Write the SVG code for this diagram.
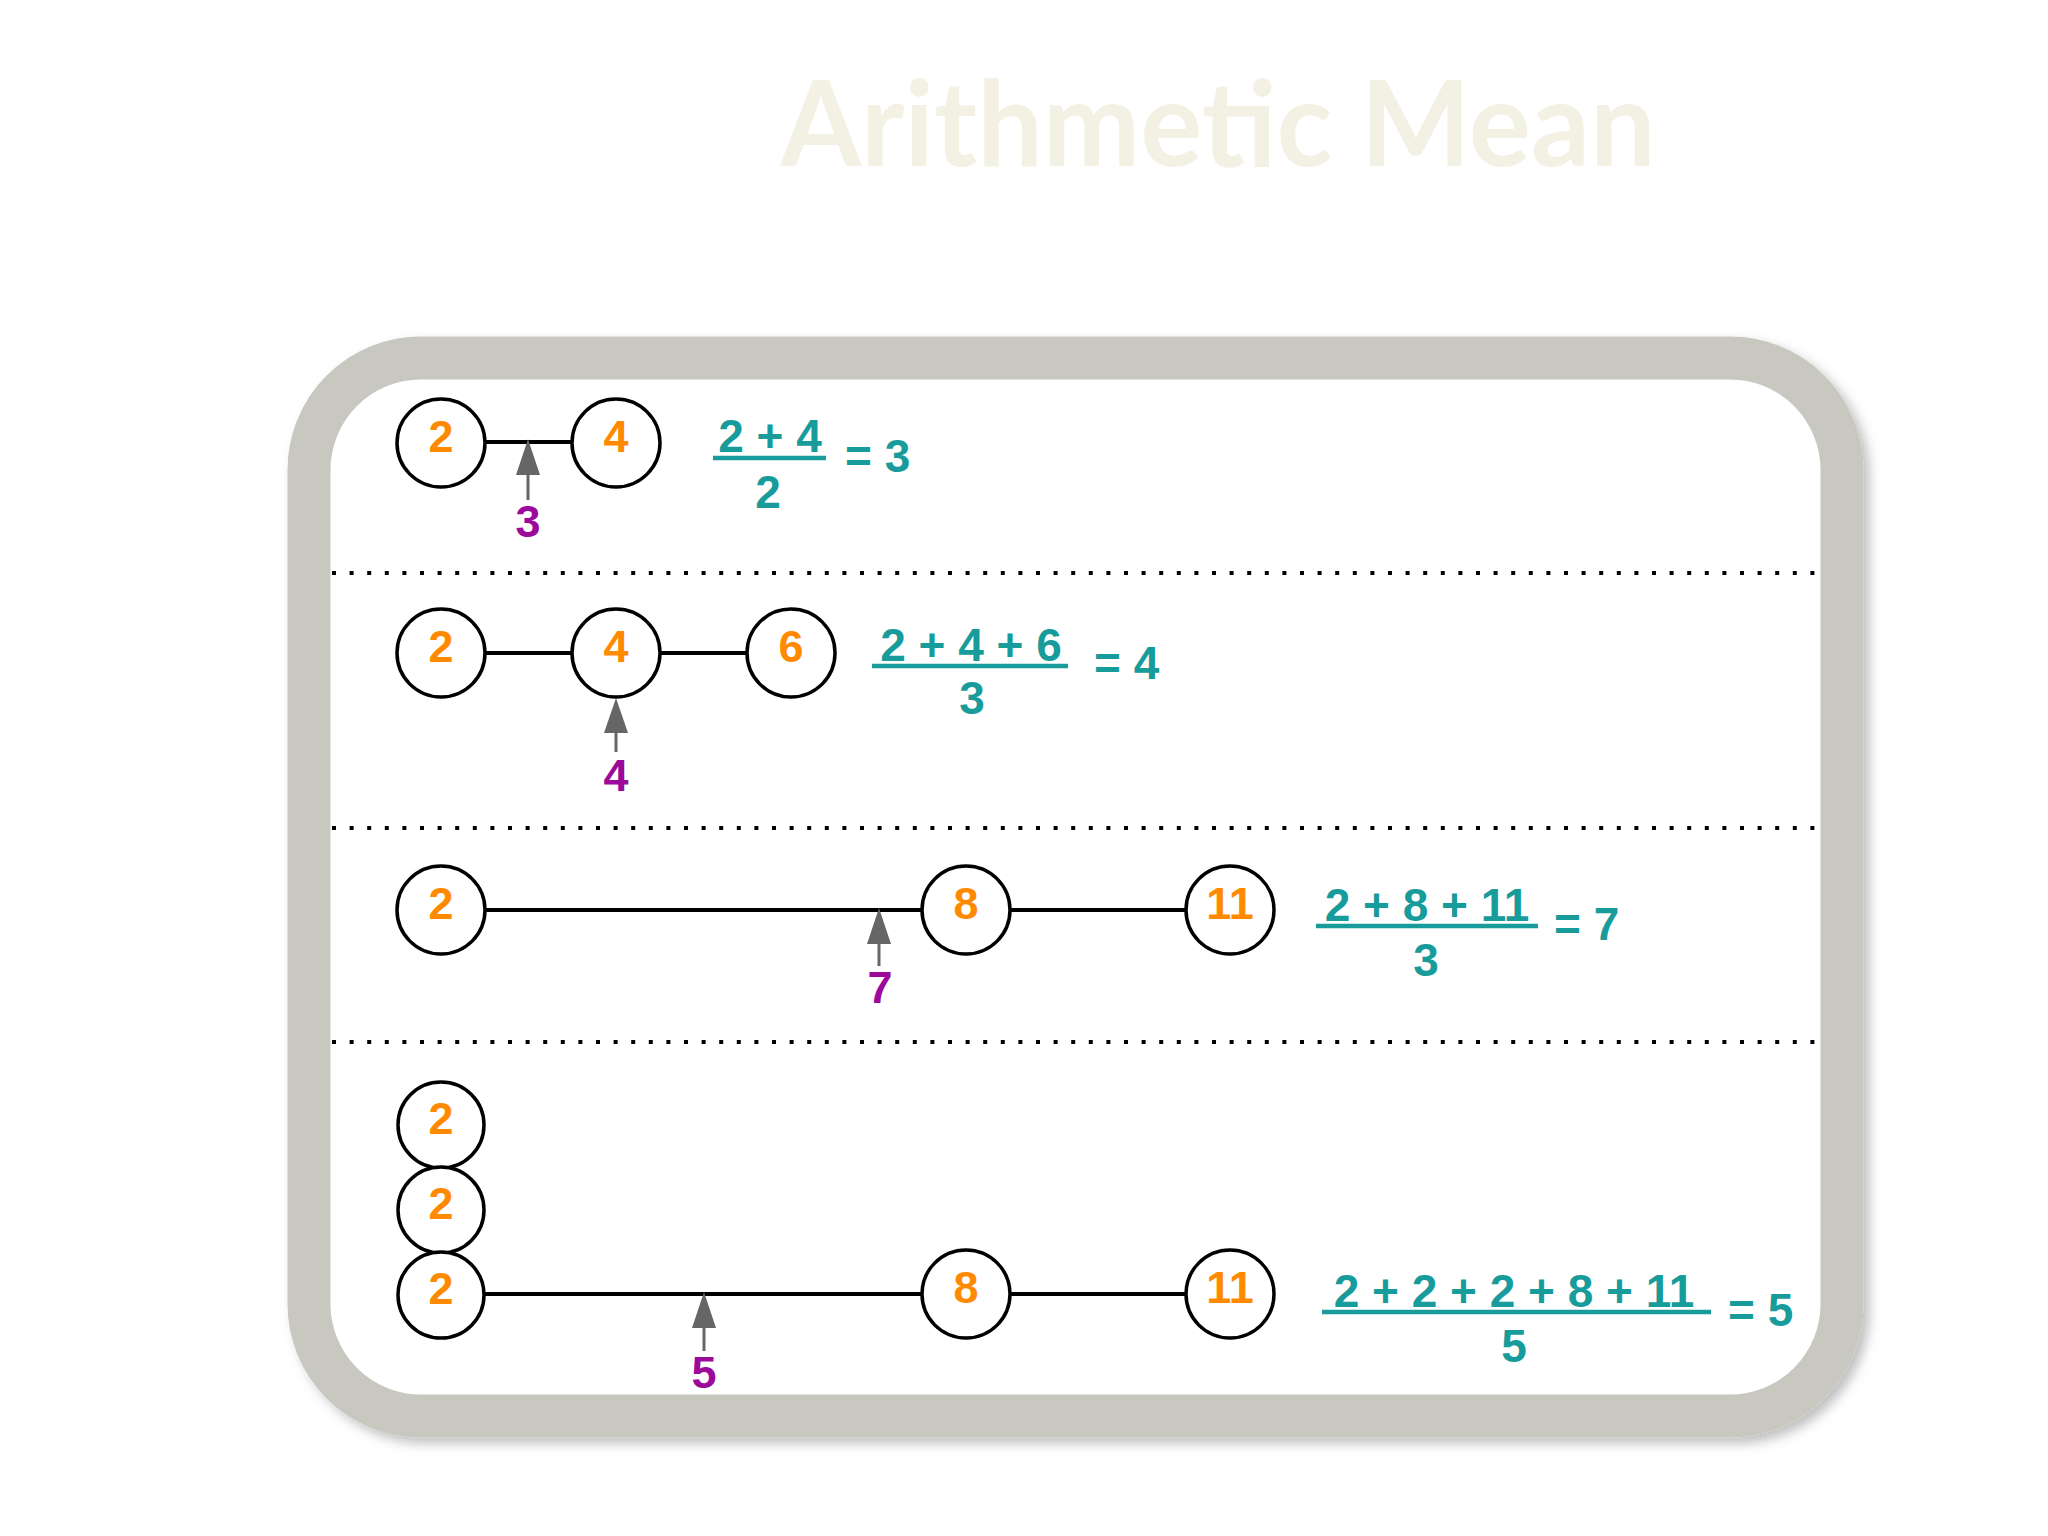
<svg xmlns="http://www.w3.org/2000/svg" width="2048" height="1536" viewBox="0 0 2048 1536">
<style>
.num{font-family:"Liberation Sans",Arial,sans-serif;font-weight:bold;font-size:45px;fill:#ff8a00;text-anchor:middle}
.mean{font-family:"Liberation Sans",Arial,sans-serif;font-weight:bold;font-size:45px;fill:#9c0a9c;text-anchor:middle}
.fx{font-family:"Liberation Sans",Arial,sans-serif;font-weight:bold;font-size:46px;fill:#189b9b}
.mid{text-anchor:middle}
.bar{stroke:#189b9b;stroke-width:4.5}
.node{fill:#ffffff;stroke:#000000;stroke-width:3.5}
.link{stroke:#000000;stroke-width:4;fill:none}
.sep{stroke:#000000;stroke-width:4;stroke-dasharray:4 13.6}
.arrow{fill:#666666}
.shaft{stroke:#666666;stroke-width:3}
</style>
<defs>
<filter id="sh" x="-5%" y="-5%" width="110%" height="110%">
<feDropShadow dx="6" dy="6" stdDeviation="6" flood-color="#000000" flood-opacity="0.25"/>
</filter>
</defs>
<rect width="2048" height="1536" fill="#ffffff"/>
<text x="1218" y="166" text-anchor="middle" font-family="Lato,'Open Sans',sans-serif" font-weight="bold" font-size="118" fill="#f3f1e4" textLength="875" lengthAdjust="spacingAndGlyphs">Arithmetic Mean</text>
<rect id="frame" x="309" y="358" width="1533" height="1058" rx="112" ry="112" fill="#ffffff" stroke="#c8c8c0" stroke-width="43" filter="url(#sh)"/>
<g id="separators">
<line class="sep" x1="332" y1="573" x2="1822" y2="573"/>
<line class="sep" x1="332" y1="828" x2="1822" y2="828"/>
<line class="sep" x1="332" y1="1042" x2="1822" y2="1042"/>
</g>
<g id="connectors">
<line class="link" x1="484" y1="442" x2="572" y2="442"/>
<line class="link" x1="484" y1="653" x2="572" y2="653"/>
<line class="link" x1="660" y1="653" x2="747" y2="653"/>
<line class="link" x1="484" y1="910" x2="922" y2="910"/>
<line class="link" x1="1010" y1="910" x2="1186" y2="910"/>
<line class="link" x1="484" y1="1294" x2="922" y2="1294"/>
<line class="link" x1="1010" y1="1294" x2="1186" y2="1294"/>
</g>
<g id="row1">
<g id="n1a"><ellipse class="node" cx="441" cy="443" rx="44" ry="44"/><text class="num" x="441" y="452">2</text></g>
<g id="n1b"><ellipse class="node" cx="616" cy="443" rx="44" ry="44"/><text class="num" x="616" y="452">4</text></g>
<g id="m1"><polygon class="arrow" points="528,439 516,475 540,475"/><line class="shaft" x1="528" y1="470" x2="528" y2="500"/><text class="mean" x="528" y="537">3</text></g>
<g id="f1"><text class="fx mid" x="770" y="452">2 + 4</text><line class="bar" x1="713" y1="458" x2="826" y2="458"/><text class="fx mid" x="768" y="508">2</text><text class="fx" x="845" y="472">= 3</text></g>
</g>
<g id="row2">
<g id="n2a"><ellipse class="node" cx="441" cy="653" rx="44" ry="44"/><text class="num" x="441" y="662">2</text></g>
<g id="n2b"><ellipse class="node" cx="616" cy="653" rx="44" ry="44"/><text class="num" x="616" y="662">4</text></g>
<g id="n2c"><ellipse class="node" cx="791" cy="653" rx="44" ry="44"/><text class="num" x="791" y="662">6</text></g>
<g id="m2"><polygon class="arrow" points="616,698 604,733 628,733"/><line class="shaft" x1="616" y1="728" x2="616" y2="752"/><text class="mean" x="616" y="791">4</text></g>
<g id="f2"><text class="fx mid" x="971" y="661">2 + 4 + 6</text><line class="bar" x1="872" y1="666" x2="1068" y2="666"/><text class="fx mid" x="972" y="714">3</text><text class="fx" x="1094" y="679">= 4</text></g>
</g>
<g id="row3">
<g id="n3a"><ellipse class="node" cx="441" cy="910" rx="44" ry="44"/><text class="num" x="441" y="919">2</text></g>
<g id="n3b"><ellipse class="node" cx="966" cy="910" rx="44" ry="44"/><text class="num" x="966" y="919">8</text></g>
<g id="n3c"><ellipse class="node" cx="1230" cy="910" rx="44" ry="44"/><text class="num" x="1230" y="919">11</text></g>
<g id="m3"><polygon class="arrow" points="879,908 867,944 891,944"/><line class="shaft" x1="879" y1="940" x2="879" y2="966"/><text class="mean" x="880" y="1003">7</text></g>
<g id="f3"><text class="fx mid" x="1427" y="921">2 + 8 + 11</text><line class="bar" x1="1316" y1="926" x2="1538" y2="926"/><text class="fx mid" x="1426" y="976">3</text><text class="fx" x="1554" y="940">= 7</text></g>
</g>
<g id="row4">
<g id="n4a"><ellipse class="node" cx="441" cy="1125" rx="43" ry="43"/><text class="num" x="441" y="1134">2</text></g>
<g id="n4b"><ellipse class="node" cx="441" cy="1210" rx="43" ry="43"/><text class="num" x="441" y="1219">2</text></g>
<g id="n4c"><ellipse class="node" cx="441" cy="1295" rx="43" ry="43"/><text class="num" x="441" y="1304">2</text></g>
<g id="n4d"><ellipse class="node" cx="966" cy="1294" rx="44" ry="44"/><text class="num" x="966" y="1303">8</text></g>
<g id="n4e"><ellipse class="node" cx="1230" cy="1294" rx="44" ry="44"/><text class="num" x="1230" y="1303">11</text></g>
<g id="m4"><polygon class="arrow" points="704,1292 692,1328 716,1328"/><line class="shaft" x1="704" y1="1324" x2="704" y2="1351"/><text class="mean" x="704" y="1388">5</text></g>
<g id="f4"><text class="fx mid" x="1514" y="1307">2 + 2 + 2 + 8 + 11</text><line class="bar" x1="1322" y1="1312" x2="1711" y2="1312"/><text class="fx mid" x="1514" y="1362">5</text><text class="fx" x="1728" y="1326">= 5</text></g>
</g>
</svg>
